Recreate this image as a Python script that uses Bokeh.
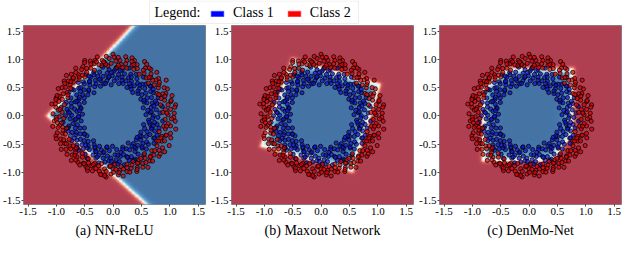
import numpy as np
from bokeh.plotting import figure
from bokeh.layouts import column, row
from bokeh.models import (Legend, LegendItem, FixedTicker, NumeralTickFormatter, Range1d,
                          BoxAnnotation, Label)
from bokeh.embed import file_html
from bokeh.resources import INLINE

# ---------------- data ----------------
# Class 1 (blue, inner ring): polar angle (deg) and radius of each point
class1_angle_deg = [
    0, 2, 3.5, 5, 8, 9, 11, 12.5, 15, 16, 18, 21, 22, 24, 25.5, 28, 30, 31, 33, 35,
    36.5, 38, 41, 42, 44, 46, 47.5, 50, 52, 53, 55, 57.5, 59, 61, 62, 64, 67, 68, 70, 71.5,
    73, 75, 77, 79, 80, 82.5, 84, 86, 88, 89, 91, 93.5, 95, 97, 98, 100, 102, 104, 106, 107,
    109, 111, 113, 114, 116.5, 118, 120, 122, 123, 125, 127, 129.5, 131, 132, 134, 136, 138, 140, 141, 143,
    145, 146.5, 148, 150, 152, 154, 155, 157, 159.5, 161, 163, 164, 166, 168, 170, 172, 173, 175, 177, 179,
    180, 182, 184, 186, 187.5, 189, 191, 193, 194, 196, 198, 200.5, 202, 203, 205, 207, 209, 211, 212, 214,
    216, 217.5, 219, 221, 223, 225, 226, 228, 230.5, 232, 234, 235, 237, 239, 241, 243, 244, 246, 248, 250,
    251, 253, 255, 257, 258.5, 260, 262, 264, 265, 267, 269, 271.5, 273, 274, 276, 278, 280, 282, 283, 285,
    287, 288.5, 290, 292, 294, 296, 297, 299, 301.5, 303, 305, 306, 308, 310, 312, 314, 315, 317, 319, 321,
    322, 324, 326, 328, 329.5, 331, 333, 335, 336, 338, 340, 342.5, 344, 345, 347, 349, 351, 353, 354, 357,
    6, 19, 27, 39, 49, 56, 65, 76, 87, 96, 103, 115, 124, 133, 147, 158, 167, 176, 185, 195,
    204, 213, 222, 231, 240, 249, 259, 268, 277, 286, 295, 304, 313, 323, 332, 341, 350, 358, 14, 45,
    81, 110, 139, 171, 199, 227, 256, 289, 318, 346, 33.5, 63, 92, 121, 151, 181, 210, 245, 275, 302,
]
class1_radius = [
    0.71, 0.58, 0.83, 0.66, 0.77, 0.62, 0.88, 0.69, 0.55, 0.80, 0.73, 0.64, 0.86, 0.60, 0.75, 0.68, 0.82, 0.57, 0.79, 0.70,
    0.63, 0.85, 0.74, 0.59, 0.81, 0.67, 0.76, 0.54, 0.87, 0.72, 0.65, 0.78, 0.61, 0.84, 0.69, 0.56, 0.80, 0.73, 0.66, 0.89,
    0.60, 0.77, 0.70, 0.83, 0.58, 0.74, 0.67, 0.86, 0.62, 0.79, 0.71, 0.55, 0.82, 0.68, 0.76, 0.63, 0.88, 0.72, 0.59, 0.81,
    0.66, 0.75, 0.57, 0.84, 0.70, 0.64, 0.79, 0.61, 0.87, 0.73, 0.68, 0.53, 0.80, 0.76, 0.62, 0.85, 0.69, 0.58, 0.78, 0.72,
    0.65, 0.83, 0.60, 0.74, 0.88, 0.67, 0.56, 0.81, 0.71, 0.63, 0.77, 0.86, 0.59, 0.75, 0.69, 0.82, 0.64, 0.79, 0.54, 0.73,
    0.84, 0.61, 0.76, 0.68, 0.89, 0.57, 0.72, 0.80, 0.65, 0.87, 0.70, 0.62, 0.78, 0.55, 0.83, 0.74, 0.66, 0.85, 0.60, 0.77,
    0.71, 0.58, 0.82, 0.67, 0.75, 0.86, 0.63, 0.79, 0.69, 0.56, 0.84, 0.73, 0.61, 0.88, 0.66, 0.78, 0.70, 0.59, 0.81, 0.74,
    0.64, 0.87, 0.68, 0.77, 0.57, 0.83, 0.72, 0.62, 0.80, 0.75, 0.54, 0.85, 0.69, 0.78, 0.60, 0.82, 0.73, 0.66, 0.89, 0.71,
    0.58, 0.76, 0.84, 0.63, 0.79, 0.67, 0.86, 0.55, 0.74, 0.81, 0.70, 0.61, 0.88, 0.68, 0.77, 0.59, 0.83, 0.72, 0.65, 0.80,
    0.75, 0.62, 0.87, 0.69, 0.57, 0.82, 0.73, 0.66, 0.85, 0.60, 0.78, 0.71, 0.56, 0.84, 0.67, 0.79, 0.74, 0.63, 0.88, 0.70,
    0.68, 0.79, 0.61, 0.84, 0.72, 0.57, 0.76, 0.65, 0.83, 0.70, 0.59, 0.80, 0.74, 0.63, 0.86, 0.69, 0.58, 0.77, 0.66, 0.82,
    0.71, 0.60, 0.85, 0.73, 0.64, 0.78, 0.56, 0.81, 0.70, 0.62, 0.87, 0.67, 0.75, 0.59, 0.83, 0.72, 0.65, 0.79, 0.74, 0.62,
    0.81, 0.69, 0.76, 0.60, 0.84, 0.71, 0.66, 0.78, 0.57, 0.73, 0.85, 0.64, 0.77, 0.82, 0.68, 0.61, 0.79, 0.70, 0.86, 0.63,
]
# Class 2 (red, outer ring)
class2_angle_deg = [
    1, 2.5, 4, 6.5, 7, 10, 11.5, 13, 14, 17, 19, 20, 23, 24, 26.5, 27, 29, 32, 34, 34.5,
    37, 39.5, 40, 43, 45, 45.5, 48, 49, 51, 54, 56, 56.5, 58, 60, 63, 65, 66, 69, 69.5, 72,
    74, 76, 76.5, 78, 81, 83, 85, 85.5, 87, 90, 92, 94, 96, 96.5, 99, 101, 103, 105, 105.5, 108,
    110, 112, 112.5, 115, 117, 119, 121, 121.5, 124, 126, 128, 130, 130.5, 133, 135, 137, 139, 139.5, 142, 144,
    144.5, 147, 149, 151, 153, 153.5, 156, 158, 160, 162, 162.5, 165, 167, 169, 171, 171.5, 174, 176, 178, 181,
    181.5, 183, 185, 188, 190, 190.5, 192, 195, 197, 199, 199.5, 201, 204, 206, 208, 208.5, 210, 213, 215, 215.5,
    218, 220, 222, 224, 224.5, 227, 229, 231, 233, 233.5, 236, 238, 240, 242, 242.5, 245, 247, 249, 249.5, 252,
    254, 256, 256.5, 259, 261, 263, 263.5, 266, 268, 270, 270.5, 272, 275, 277, 279, 279.5, 281, 284, 286, 286.5,
    289, 291, 293, 293.5, 295, 298, 300, 300.5, 302, 304, 307, 309, 309.5, 311, 313, 316, 318, 318.5, 320, 323,
    325, 325.5, 327, 330, 332, 332.5, 334, 337, 339, 339.5, 341, 343, 346, 348, 348.5, 350, 352, 355, 356, 358.5,
    3, 15, 25, 36, 47, 57, 68, 79, 89, 98, 107, 118, 127, 136, 146, 155, 164, 173, 184, 193,
    202, 211, 221, 230, 239, 248, 258, 267, 276, 285, 294, 303, 312, 321, 331, 340, 349, 357, 8, 42,
    71, 100, 131, 160, 187, 217, 244, 273, 305, 335, 21, 53, 84, 113, 141, 168, 196, 226, 262, 297,
]
class2_radius = [
    0.97, 1.08, 0.88, 1.02, 0.93, 1.12, 0.99, 0.86, 1.05, 0.95, 1.10, 0.90, 1.01, 0.96, 1.07, 0.87, 1.03, 0.94, 1.13, 0.98,
    0.91, 1.04, 0.99, 0.85, 1.09, 0.95, 1.00, 0.89, 1.06, 0.93, 1.02, 0.97, 0.87, 1.11, 0.94, 1.00, 0.90, 1.05, 0.96, 1.08,
    0.88, 1.01, 0.95, 1.07, 0.92, 0.99, 1.04, 0.86, 0.97, 1.09, 0.93, 1.02, 0.89, 1.06, 0.96, 1.00, 0.91, 1.08, 0.94, 1.03,
    0.98, 0.87, 1.05, 0.93, 1.10, 0.96, 0.90, 1.02, 0.99, 0.85, 1.07, 0.95, 1.01, 0.88, 1.04, 0.97, 1.09, 0.92, 1.00, 0.94,
    1.06, 0.89, 0.98, 1.03, 0.91, 1.08, 0.96, 0.86, 1.01, 0.94, 1.05, 0.99, 0.88, 1.10, 0.93, 1.02, 0.97, 0.90, 1.06, 0.95,
    1.00, 0.87, 1.04, 0.92, 1.08, 0.96, 0.99, 0.85, 1.03, 0.94, 1.07, 0.90, 1.01, 0.97, 1.05, 0.88, 0.98, 1.09, 0.93, 1.02,
    0.95, 1.06, 0.89, 1.00, 0.93, 1.08, 0.97, 0.86, 1.03, 0.91, 1.05, 0.99, 0.88, 1.02, 0.94, 1.07, 0.96, 0.90, 1.04, 0.98,
    0.92, 1.01, 0.87, 1.06, 0.95, 0.99, 1.09, 0.90, 1.03, 0.94, 1.00, 0.86, 1.05, 0.97, 0.91, 1.08, 0.96, 1.02, 0.89, 1.04,
    0.98, 0.93, 1.07, 0.88, 1.01, 0.95, 1.05, 0.90, 0.99, 1.10, 0.94, 1.03, 0.87, 1.06, 0.97, 1.00, 0.92, 1.08, 0.96, 1.02,
    1.11, 0.94, 1.04, 0.89, 1.12, 0.97, 1.01, 0.93, 1.09, 0.99, 0.86, 1.06, 0.95, 1.13, 0.91, 1.03, 0.98, 1.10, 0.92, 1.07,
    0.95, 1.06, 0.89, 1.01, 0.93, 1.09, 0.98, 0.87, 1.04, 0.92, 1.00, 1.07, 0.90, 0.97, 1.03, 0.88, 1.05, 0.94, 1.00, 0.91,
    1.08, 0.96, 0.86, 1.02, 0.99, 0.93, 1.06, 0.89, 1.01, 0.95, 1.04, 0.90, 0.98, 1.07, 0.92, 1.00, 0.96, 1.03, 1.10, 0.94,
    1.02, 0.97, 0.91, 1.05, 0.99, 0.88, 1.03, 0.95, 1.01, 0.93, 0.98, 1.06, 0.90, 1.00, 0.96, 1.04, 0.92, 0.97, 1.07, 0.94,
]

# decision boundaries (polygon vertices)
# (a) NN-ReLU: the red wedge on the left
relu_red_x = [-1.15, 1.87, -4.0, -4.0, 2.39]
relu_red_y = [0.0, 3.2, 3.2, -3.2, -3.2]
# (b) Maxout Network: blue rotated square
maxout_blue_x = [-0.50, 1.03, 0.55, -1.05]
maxout_blue_y = [1.00, 0.55, -0.98, -0.53]
# (c) DenMo-Net: blue polygon
denmo_blue_x = [-0.39, 0.77, 0.77, 0.40, -0.81, -0.81]
denmo_blue_y = [0.83, 0.83, -0.31, -0.79, -0.79, 0.47]

captions = ["(a) NN-ReLU", "(b) Maxout Network", "(c) DenMo-Net"]
tick_values = [-1.5, -1.0, -0.5, 0.0, 0.5, 1.0, 1.5]
legend_title = "Legend:"
legend_labels = ["Class 1", "Class 2"]

# ---------------- helpers ----------------
X0, X1 = -1.58, 1.63
Y0, Y1 = -1.57, 1.60
FONT = "Liberation Serif"

RDBU = ["#67001f", "#b2182b", "#d6604d", "#f4a582", "#fddbc7", "#f7f7f7",
        "#d1e5f0", "#92c5de", "#4393c3", "#2166ac", "#053061"]
STOPS = np.array([[int(h[i:i + 2], 16) for i in (1, 3, 5)] for h in RDBU], dtype=float)


def signed_distance(px, py, vx, vy):
    d = np.full(px.shape, np.inf)
    inside = np.zeros(px.shape, dtype=bool)
    n = len(vx)
    for i in range(n):
        x1, y1 = vx[i], vy[i]
        x2, y2 = vx[(i + 1) % n], vy[(i + 1) % n]
        dx, dy = x2 - x1, y2 - y1
        t = np.clip(((px - x1) * dx + (py - y1) * dy) / (dx * dx + dy * dy), 0, 1)
        dist = np.hypot(px - (x1 + t * dx), py - (y1 + t * dy))
        d = np.minimum(d, dist)
        if y2 != y1:
            cond = ((y1 > py) != (y2 > py)) & (px < dx * (py - y1) / dy + x1)
            inside ^= cond
    return np.where(inside, d, -d)


def decision_image(vx, vy, blue_inside, w_in, w_out, n=240):
    gx = np.linspace(X0, X1, n)
    gy = np.linspace(Y0, Y1, n)
    px, py = np.meshgrid(gx, gy)
    d = signed_distance(px, py, vx, vy)
    if not blue_inside:
        d = -d
    w = np.where(d > 0, w_in, w_out)
    prob = 0.5 + 0.5 * np.tanh(d / w)
    c = (0.07 + 0.87 * prob) * 10
    i0 = np.clip(np.floor(c).astype(int), 0, 9)
    f = (c - i0)[..., None]
    rgb = STOPS[i0] * (1 - f) + STOPS[i0 + 1] * f
    rgb = 0.8 * rgb + 0.2 * 255
    img = np.empty((n, n), dtype=np.uint32)
    view = img.view(dtype=np.uint8).reshape((n, n, 4))
    view[..., :3] = np.clip(rgb, 0, 255).astype(np.uint8)
    view[..., 3] = 255
    return img


c1x = np.array(class1_radius) * np.cos(np.radians(class1_angle_deg))
c1y = np.array(class1_radius) * np.sin(np.radians(class1_angle_deg))
c2x = np.array(class2_radius) * np.cos(np.radians(class2_angle_deg))
c2y = np.array(class2_radius) * np.sin(np.radians(class2_angle_deg))


def make_panel(caption, vx, vy, blue_inside, w_in, w_out, width, left):
    p = figure(width=width, height=216, x_range=Range1d(X0, X1), y_range=Range1d(Y0, Y1),
               toolbar_location=None, output_backend="svg",
               min_border_left=left, min_border_right=3, min_border_top=1, min_border_bottom=0)
    img = decision_image(vx, vy, blue_inside, w_in, w_out)
    p.image_rgba(image=[img], x=X0, y=Y0, dw=X1 - X0, dh=Y1 - Y0)
    p.scatter(c1x, c1y, size=4.2, fill_color="#1010d0", fill_alpha=0.7,
              line_color="black", line_width=0.8, line_alpha=0.9)
    p.scatter(c2x, c2y, size=4.2, fill_color="#e00000", fill_alpha=0.7,
              line_color="black", line_width=0.8, line_alpha=0.9)
    p.grid.visible = False
    p.outline_line_color = "#555555"
    p.outline_line_width = 0.7
    for ax in (p.xaxis[0], p.yaxis[0]):
        ax.ticker = FixedTicker(ticks=tick_values)
        ax.formatter = NumeralTickFormatter(format="0.0")
        ax.axis_line_color = None
        ax.major_tick_in = 0
        ax.major_tick_out = 2
        ax.minor_tick_line_color = None
        ax.major_tick_line_color = "#444444"
        ax.major_label_text_font = FONT
        ax.major_label_text_font_size = "11px"
        ax.major_label_text_color = "black"
        ax.major_label_standoff = 1
    p.xaxis.axis_label = caption
    p.xaxis.axis_label_text_font = FONT
    p.xaxis.axis_label_text_font_size = "14px"
    p.xaxis.axis_label_text_font_style = "normal"
    p.xaxis.axis_label_text_color = "black"
    p.xaxis.axis_label_standoff = 5
    p.background_fill_color = "white"
    p.border_fill_color = "white"
    return p


pa = make_panel(captions[0], relu_red_x, relu_red_y, False, 0.05, 0.045, 208, 21)
pb = make_panel(captions[1], maxout_blue_x, maxout_blue_y, True, 0.12, 0.04, 208, 22)
pc = make_panel(captions[2], denmo_blue_x, denmo_blue_y, True, 0.12, 0.04, 208, 22)

# legend strip
lg = figure(width=624, height=24, toolbar_location=None, output_backend="svg",
            x_axis_type=None, y_axis_type=None, min_border=0,
            x_range=Range1d(0, 624), y_range=Range1d(0, 24))
lg.grid.visible = False
lg.outline_line_color = None
lg.add_layout(BoxAnnotation(left=149, right=358, bottom=1, top=23.5,
                            fill_color="white", fill_alpha=1,
                            line_color="#c8c8c8", line_width=1))
lg.add_layout(Label(x=154, y=12, text=legend_title, text_font=FONT, text_font_size="14px",
                    text_baseline="middle", text_color="black"))
# swatch renderers only (no visible data)
r1 = lg.quad(left=[np.nan], right=[np.nan], top=[np.nan], bottom=[np.nan],
             fill_color="#0000ff", line_color="#4a6cff", line_width=0.6, line_join="miter")
r2 = lg.quad(left=[np.nan], right=[np.nan], top=[np.nan], bottom=[np.nan],
             fill_color="#ff0000", line_color="#ff5050", line_width=0.6, line_join="miter")
legend = Legend(items=[LegendItem(label=legend_labels[0], renderers=[r1]),
                       LegendItem(label=legend_labels[1], renderers=[r2])],
                orientation="horizontal", location=(209, 3), margin=0, padding=0,
                spacing=12, glyph_width=16, glyph_height=7, label_standoff=8,
                border_line_color=None, background_fill_alpha=0,
                label_text_font=FONT, label_text_font_size="14px",
                label_text_color="black")
lg.add_layout(legend, "center")

layout = column(lg, row(pa, pb, pc))
open("out.html", "w").write(file_html(layout, INLINE))
